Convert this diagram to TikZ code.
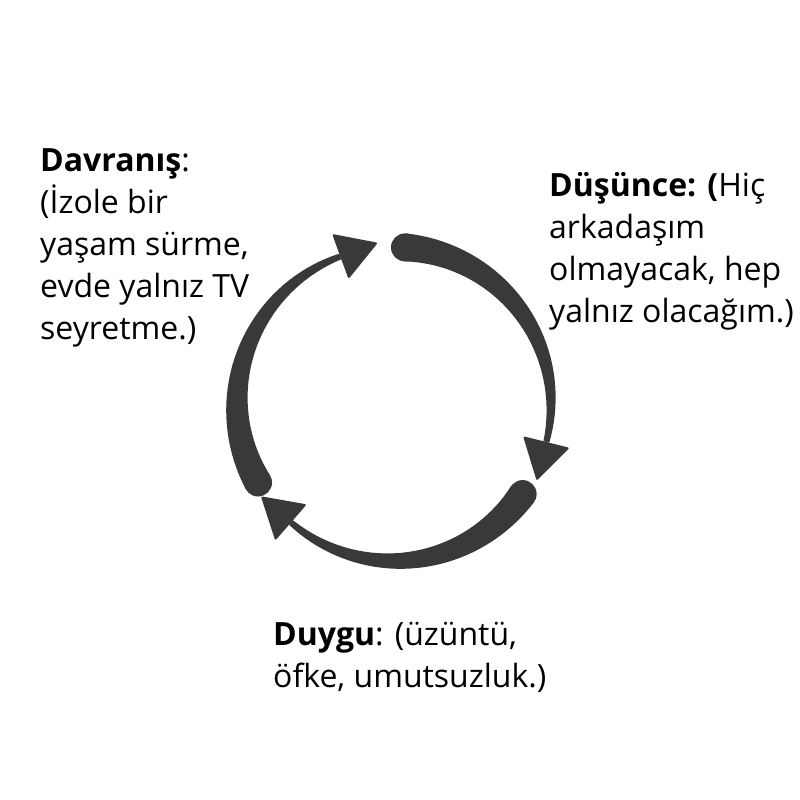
\documentclass[tikz,border=0pt]{standalone}
\usepackage{fontspec}
\setmainfont{Open Sans}
\definecolor{arrowgray}{RGB}{58,57,58}

\begin{document}
\begin{tikzpicture}[
	x = 1pt, y = 1pt,
	every node/.style = {font = \fontsize{32}{42}\selectfont, align = left, anchor = base west, inner sep = 0},
	declare function = {
		w(\t) = 28-22*\t;
		rr = 157;
	}]

	\useasboundingbox (-394,-396) rectangle (406,404);

	% Düşünce -> Duygu
	\fill[arrowgray,domain=0:1,variable=\t,samples=40] plot ({86-100*\t}:{rr+w(\t)/2}) -- plot[domain=1:0] ({86-100*\t}:{rr-w(\t)/2}) -- cycle;
	\fill[arrowgray] (86:rr) circle (14);
	\fill[arrowgray,rotate=-14,rounded corners=2] ({rr+24},0) -- (rr,-40) -- ({rr-24},0) -- cycle;

	% Duygu -> Davranış
	\fill[arrowgray,domain=0:1,variable=\t,samples=40] plot ({-35-96*\t}:{rr+w(\t)/2}) -- plot[domain=1:0] ({-35-96*\t}:{rr-w(\t)/2}) -- cycle;
	\fill[arrowgray] (-35:rr) circle (14);
	\fill[arrowgray,rotate=-131,rounded corners=2] ({rr+24},0) -- (rr,-40) -- ({rr-24},0) -- cycle;

	% Davranış -> Düşünce
	\fill[arrowgray,domain=0:1,variable=\t,samples=40] plot ({-150-100*\t}:{rr+w(\t)/2}) -- plot[domain=1:0] ({-150-100*\t}:{rr-w(\t)/2}) -- cycle;
	\fill[arrowgray] (-150:rr) circle (14);
	\fill[arrowgray,rotate=110,rounded corners=2] ({rr+24},0) -- (rr,-40) -- ({rr-24},0) -- cycle;

	% base anchor sits on the last line
	\node (davranis) at (-354,64) {\textbf{Davranış}:\\(İzole bir\\yaşam sürme,\\evde yalnız TV\\seyretme.)};
	\node (dusunce) at (155,81) {\textbf{Düşünce: (}Hiç\\arkadaşım\\olmayacak, hep\\yalnız olacağım.)};
	\node (duygu) at (-121,-283) {\textbf{Duygu}: (üzüntü,\\öfke, umutsuzluk.)};

\end{tikzpicture}
\end{document}
